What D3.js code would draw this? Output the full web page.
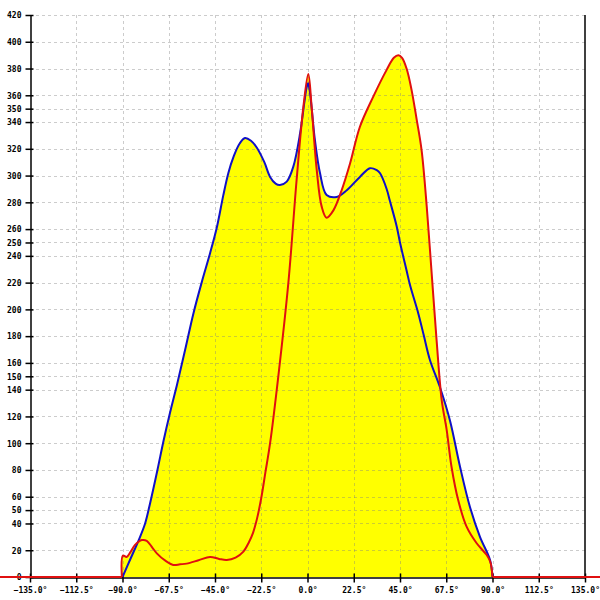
<!DOCTYPE html>
<html><head><meta charset="utf-8">
<script src="https://cdn.jsdelivr.net/npm/d3@7"></script>
<style>body{margin:0;background:#fff}svg{display:block}</style>
</head><body>
<script>
const xTicks = [-135,-112.5,-90,-67.5,-45,-22.5,0,22.5,45,67.5,90,112.5,135];
const yTicks = [0,20,40,50,60,80,100,120,140,150,160,180,200,220,240,250,260,280,300,320,340,350,360,380,400,420];

const blueAngles = [-90,-86,-82,-79,-76.6,-73,-70,-67,-63.6,-59.5,-55.5,-51.5,-47.4,-44,-41,-38.5,-36,-33,-30.4,-27.5,-24.7,-21,-18.2,-15.5,-13.4,-10.1,-6.9,-3.6,-1.5,-0.4,0.3,1.2,3.6,6.1,9.3,14.2,19.1,25.5,30.4,33.7,35.3,38.5,40.1,43.4,45,48.2,49.9,53.9,56.5,59.6,64.4,69.3,74.2,79,83.9,88.8,90];
const blueValues = [0,14,28,40,55,80,102,122,143,170,197,220,242,262,285,302,314,324,328,326,321,310,299,294,293,295.5,306.7,331.6,355,366,369,362,326.6,301.7,285.5,284,289,299,305.5,304,301.7,290,281,262,250,229,218,197,181,162,142,117,82.4,52.5,30,12.7,0];

const redAngles = [-150,-90.3,-89.8,-88,-86,-83.9,-80.6,-78.2,-75.5,-73.3,-69,-65.3,-62,-58.8,-53,-47.4,-43,-39.3,-35,-31.2,-28.5,-26.5,-24.5,-22.5,-20.5,-18.2,-14.2,-9.3,-5.3,-2,0.4,2,4.5,6.9,9.3,12.6,16.6,20.7,25.5,32,38.5,42,44.2,46,48.2,50.5,53.1,55.5,58,60.4,62.8,65.3,67.7,70.1,73.3,77.4,82.3,87.2,89,90,150];
const redValues = [0,0,16,15,19,24,27.6,27,22,17.7,12,9,9.5,10,12.5,15,13.5,12.7,14.5,19,26,33,44,59,78,100,150,220,296.7,351.5,376,351.5,304,276.8,268.5,274,289,309,336.5,359,379,388,390,388,380,365,342,319,277,227,177,132,110,82,57.5,37.6,25.2,16.4,11,0,0];

const W = 600, H = 600;
const mLeft = 30, mRight = 585, mTop = 15, mBottom = 577;
const x = d3.scaleLinear().domain([-135,135]).range([mLeft,mRight]);
const y = d3.scaleLinear().domain([0,420]).range([mBottom,mTop]);

const svg = d3.select("body").append("svg").attr("width",W).attr("height",H);
svg.append("rect").attr("width",W).attr("height",H).attr("fill","#fff");

const blue = blueAngles.map((a,i)=>[a,blueValues[i]]);
const red = redAngles.map((a,i)=>[a,redValues[i]]);
const redMid = red.filter(d=>d[0]>=-90.3&&d[0]<=90);
const redL = red.filter(d=>d[0]<=-90.3);
const redR = red.filter(d=>d[0]>=90);
const curve = d3.curveCatmullRom.alpha(0.5);
const area = d3.area().x(d=>x(d[0])).y0(y(0)).y1(d=>y(d[1])).curve(curve);
const line = d3.line().x(d=>x(d[0])).y(d=>y(d[1])).curve(curve);
const lineLin = d3.line().x(d=>x(d[0])).y(d=>y(d[1]));

svg.append("path").attr("d",area(blue)).attr("fill","#ffff00");
svg.append("path").attr("d",area(redMid)).attr("fill","#ffff00");

// grid
const g = svg.append("g").attr("stroke","#808080").attr("stroke-opacity",0.4).attr("stroke-dasharray","3,3").attr("stroke-width",1);
yTicks.filter(v=>v>0).forEach(v=>{
  g.append("line").attr("x1",mLeft).attr("x2",mRight).attr("y1",Math.round(y(v))+0.5).attr("y2",Math.round(y(v))+0.5);
});
xTicks.filter(v=>v>-135&&v<135).forEach(v=>{
  g.append("line").attr("y1",mTop).attr("y2",mBottom).attr("x1",Math.round(x(v))+0.5).attr("x2",Math.round(x(v))+0.5);
});

// axes
const yAxis = d3.axisLeft(y).tickValues(yTicks).tickSize(0).tickFormat(d3.format("d"));
const xAxis = d3.axisBottom(x).tickValues(xTicks).tickSize(0).tickFormat(d=>d3.format(".1f")(d)+"°");
const ya = svg.append("g").attr("transform",`translate(${mLeft+0.5},0)`).call(yAxis);
const xa = svg.append("g").attr("transform",`translate(0,${mBottom+0.5})`).call(xAxis);
[ya,xa].forEach(a=>{a.select(".domain").attr("stroke","#000").attr("stroke-width",1.5);
  a.selectAll("text").attr("font-family","DejaVu Sans Mono").attr("font-size","8px").attr("font-weight","bold").attr("fill","#000");});
ya.selectAll(".tick line").remove();
ya.selectAll(".tick").append("line").attr("x1",-5).attr("x2",3).attr("stroke","#000").attr("stroke-width",1.5);
ya.selectAll("text").attr("x",-9).attr("dy","0.35em");
xa.selectAll(".tick").append("line").attr("y1",-4).attr("y2",5).attr("stroke","#000").attr("stroke-width",1.5);
xa.selectAll("text").attr("y",10).attr("dy","0.71em");
svg.append("line").attr("x1",mRight).attr("x2",mRight).attr("y1",mTop).attr("y2",mBottom).attr("stroke","#000").attr("stroke-width",1.5);

svg.append("path").attr("d",line(blue)).attr("fill","none").attr("stroke","#1010c8").attr("stroke-width",2);
[lineLin(redL), line(redMid), lineLin(redR)].forEach(d=>
  svg.append("path").attr("d",d).attr("fill","none").attr("stroke","#e01010").attr("stroke-width",2));
</script>
</body></html>
